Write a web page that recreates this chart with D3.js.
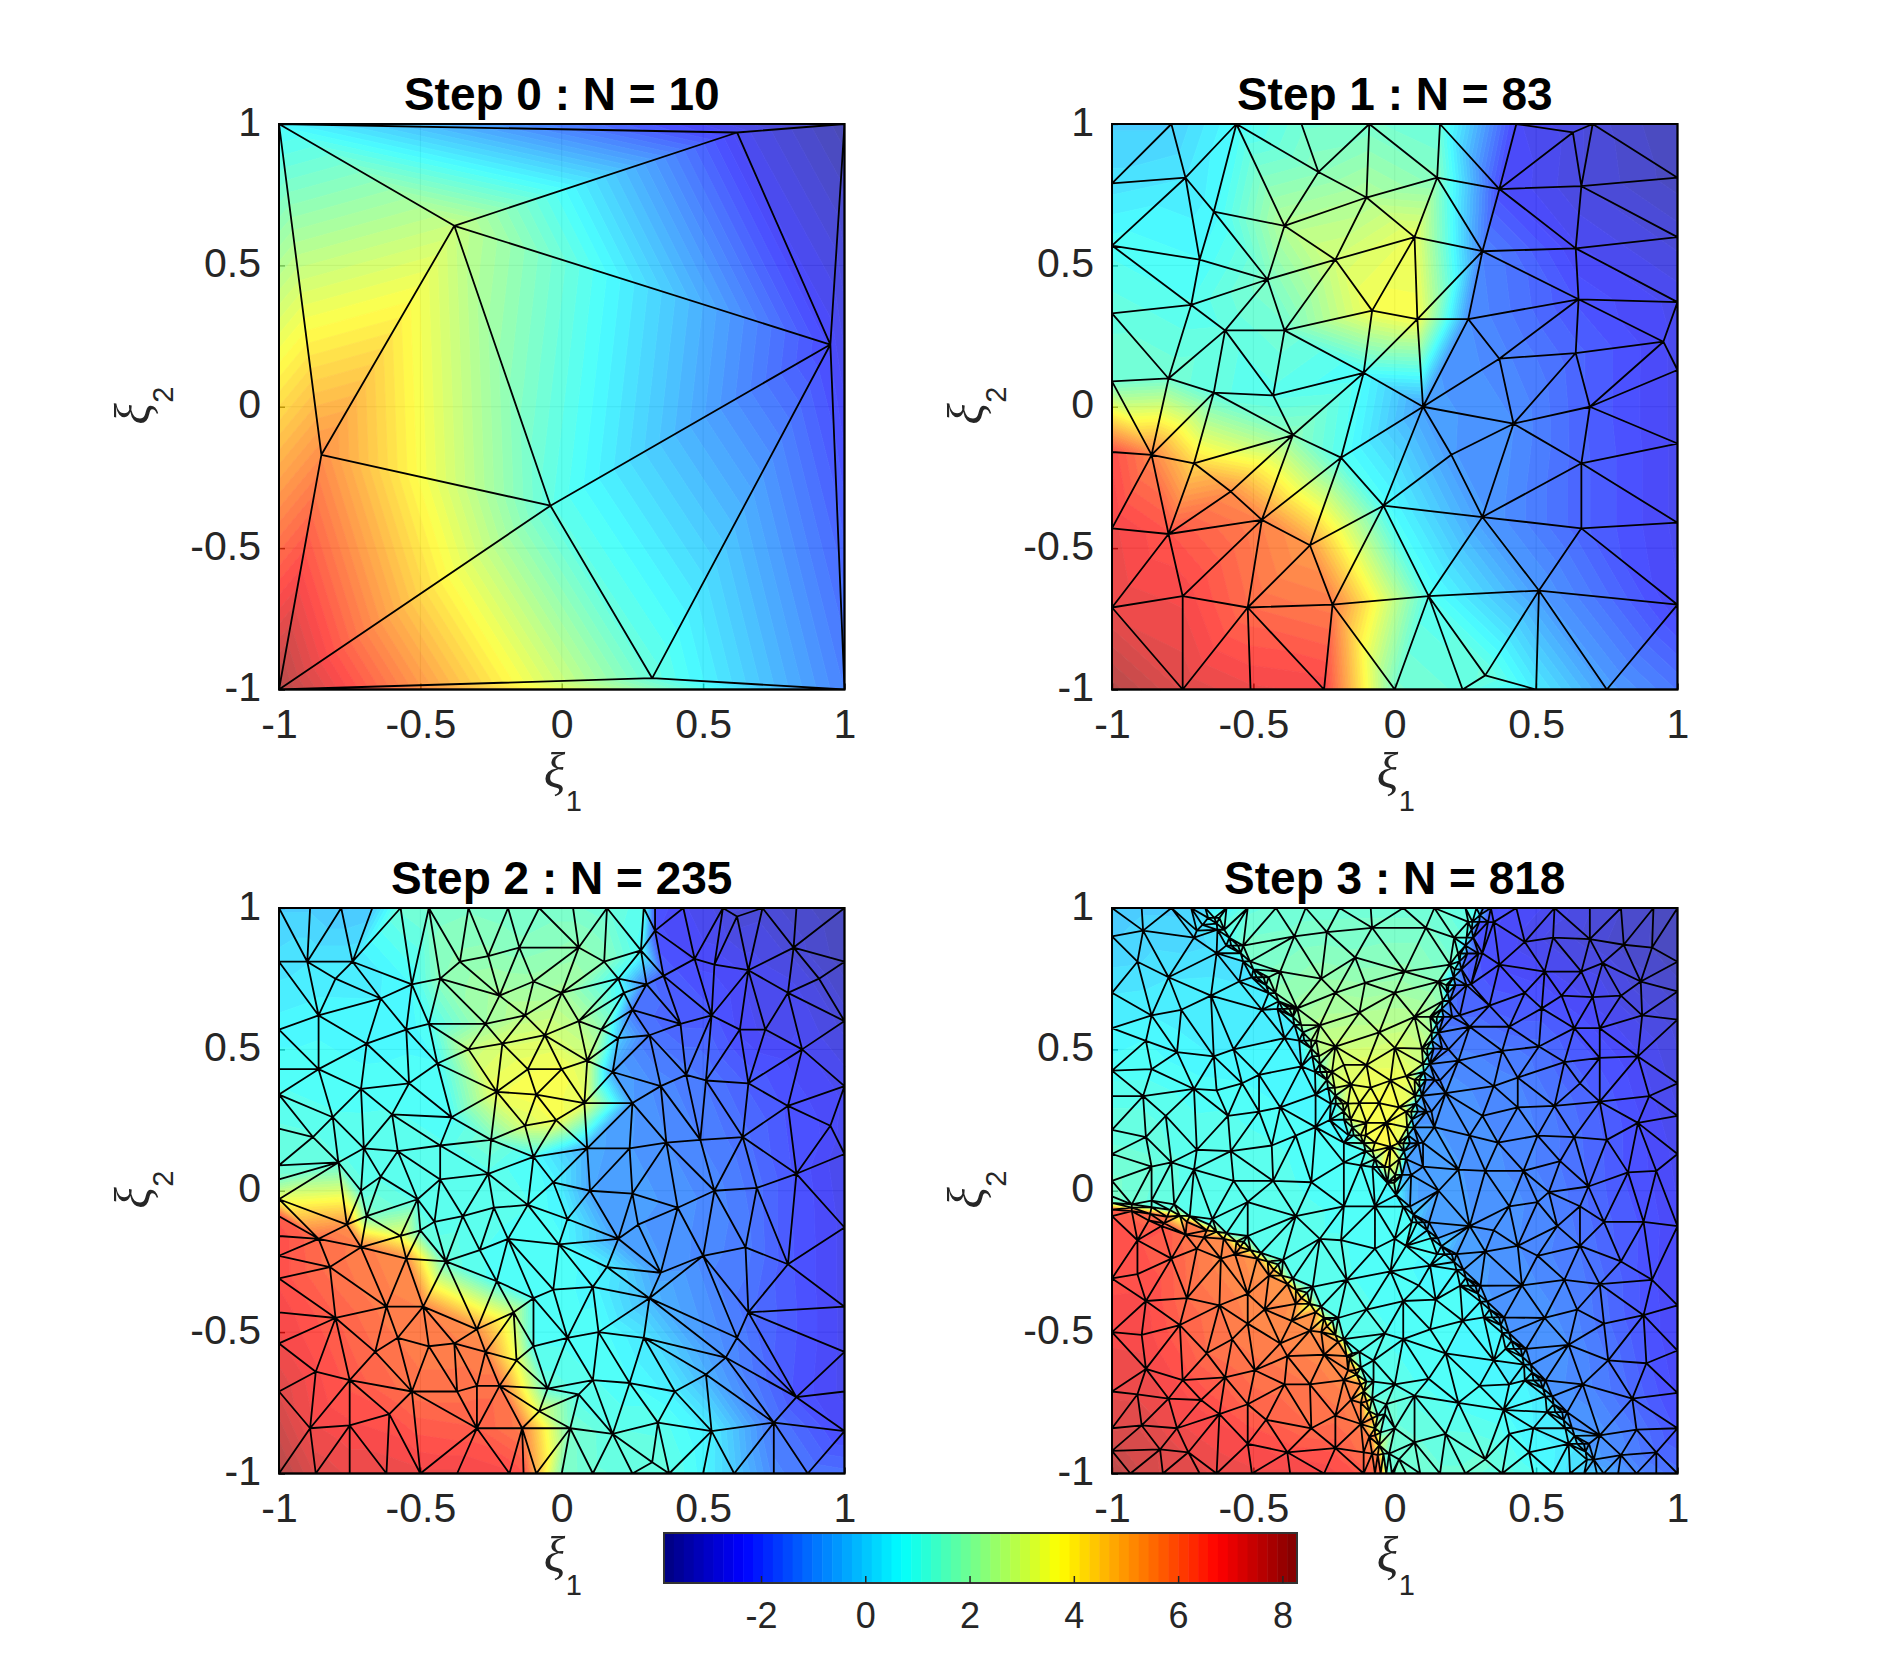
<!DOCTYPE html>
<html>
<head>
<meta charset="utf-8">
<script src="https://cdnjs.cloudflare.com/ajax/libs/d3/7.8.5/d3.min.js"></script>
<style>
body { margin: 0; background: #fff; }
text { font-family: "Liberation Sans", Arial, sans-serif; fill: #262626; }
</style>
</head>
<body>
<div id="wrapper"></div>
<script>
// mesh nodes: [xi1, xi2, value]
const step0Nodes = [
[-1,1,.6],[.62,.97,-2.6],[1,1,-3.6],[-.38,.64,2.8],[.95,.22,-2.4],[-.85,-.17,5.6],[-.04,-.35,1.1],[.32,-.96,1.2],[-1,-1,8],[1,-1,-1.4]
];

const step1Nodes = [
[-1,1,-.1],[-.79,1,-.1],[-.56,1,.7],[-.33,1,1.4],[-.09,1,1.5],[.16,1,1.2],[.43,1,-2.5],[.7,1,-3],[1,1,-3.5],
[-.74,.81,.3],[-.64,.69,.6],[-.27,.83,1.8],[-.1,.74,2.4],[.15,.81,1.7],[.37,.77,-2.3],[.63,.97,-2.8],[.66,.78,-2.9],
[-.39,.64,2.5],[.07,.6,3.4],[.31,.55,-1.4],[.64,.56,-2.5],[-.69,.52,.7],[-.21,.52,3],[-.45,.45,1.6],[-.72,.36,.9],
[-.08,.34,3.6],[.08,.31,3.6],[.26,.31,-1.2],[.65,.38,-2.2],[-.6,.27,1.1],[-.39,.27,1.4],[.37,.17,-1.3],[.64,.19,-1.9],
[.95,.23,-2.5],[-.11,.12,.7],[-.8,.1,1.4],[-.64,.05,1.1],[-.43,.04,1],[.1,0,-.9],[.69,0,-2],[.42,-.06,-1.2],[-.36,-.1,1.8],
[-.86,-.17,5.8],[-.71,-.2,4.4],[-.19,-.18,.9],[.2,-.17,-1],[.66,-.2,-1.9],[-.58,-.3,5.6],[-.04,-.35,.8],[.31,-.39,-1],
[.66,-.43,-1.9],[-.47,-.4,5.8],[-.8,-.45,6.6],[-.3,-.49,5.4],[-.75,-.67,6.9],[-.52,-.71,6.2],[-.22,-.7,5.9],[.12,-.67,.9],
[.51,-.65,-1],[.32,-.95,1.3],
[-1,.79,.2],[-1,.57,.8],[-1,.33,1.2],[-1,.09,1.4],[-1,-.16,6.7],[-1,-.43,7],[-1,-.71,7.1],[-1,-1,8],
[1,.81,-3.4],[1,.6,-3],[1,.37,-2.6],[1,.13,-2.6],[1,-.13,-2.6],[1,-.41,-2.6],[1,-.7,-2.5],[1,-1,-1.6],
[-.75,-1,7.3],[-.51,-1,7],[-.25,-1,6.9],[0,-1,1.5],[.24,-1,1.2],[.5,-1,.4],[.75,-1,-.9]
];

const step2Nodes = [
[-1,1,-.1],[-.89,1,-.1],[-.78,1,-.3],[-.67,1,-.2],[-.57,1,1.3],[-.47,1,1.5],[-.33,1,1.6],[-.19,1,1.5],[-.08,1,1.5],[.04,1,1.5],[.16,1,1.3],[.29,1,.9],[.33,1,-2.2],[.43,1,-2.5],[.57,1,-2.8],[.71,1,-3],[.83,1,-3.2],[1,1,-3.5],
[-.9,.81,.3],[-.74,.81,.3],[-.8,.75,.4],[-.86,.62,.6],[-.64,.68,.5],[-.69,.52,.6],[-.55,.57,.6],[-.53,.73,.7],[-.43,.75,1.8],[-.36,.81,1.9],[-.26,.83,1.9],[-.15,.86,1.7],[.06,.86,1.9],[.15,.81,1.8],[-.1,.74,2.1],[-.22,.69,2.3],[0,.7,2.3],[-.13,.62,2.6],[.06,.6,2.5],[-.27,.59,2.2],[.2,.75,.7],[.14,.57,2],[.2,.54,-.2],[-.06,.55,3.1],[-.21,.52,3.1],[-.33,.5,2.8],[-.47,.59,.8],[-.86,.43,.8],[-.54,.38,.8],[-.71,.36,.8],[-.44,.45,.7],[.09,.46,3],[-.12,.43,3.5],[0,.43,3.6],[.18,.42,-.8],[-.23,.35,3.5],[-.09,.34,3.7],[.08,.31,3.4],[-.02,.25,3.6],[-.13,.23,3.1],[-.25,.18,1.5],[.09,.15,-.7],[-.1,.12,.7],
[-.81,.26,.9],[-.6,.27,.9],[-.39,.26,.8],[-.88,.19,1.1],[-.7,.15,1],[-.58,.14,.9],[-.43,.16,.9],[-.79,.1,1.1],[-.26,.06,1],[-.64,.05,1],[-.43,.04,1],[-.03,.03,.6],[.1,0,-.8],[-.71,0,1.1],[-.51,-.03,1],[-.24,-.06,1],[-.12,-.05,.9],[.02,-.1,.5],[-.35,-.09,1],[-.45,-.11,1],[-.5,-.14,1.2],[-.57,-.16,3.4],
[-.69,-.09,1.6],[-.76,-.12,5.5],[-.86,-.17,6.2],[-.71,-.2,5.9],[-.55,-.24,5.6],[-.82,-.27,6.1],[-.41,-.25,1.2],[-.29,-.21,.9],[-.19,-.17,.8],[-.01,-.19,.8],[-.23,-.32,.8],[-.03,-.35,.8],[-.1,-.38,.8],[.11,-.34,.6],[.13,-.5,.8],[.02,-.52,.8],[-.17,-.43,2.8],[-.3,-.49,5.5],[-.1,-.55,.9],[-.16,-.6,3.5],[.11,-.67,.9],[.24,-.68,.7],[.06,-.72,.9],[.18,-.86,1.1],[.34,-.82,1],[.32,-.96,1.2],[.53,-.85,.4],[.03,-.84,1.5],[-.05,-.7,1.2],[-.08,-.78,3.2],[-.14,-.84,5.9],[-.22,-.69,6.1],[-.3,-.69,6.1],[-.37,-.71,6.1],[-.53,-.71,6.1],[-.3,-.84,6.4],[-.38,-.54,5.9],[-.47,-.55,5.9],[-.58,-.52,6],[-.66,-.57,6.2],[-.62,-.41,5.9],[-.49,-.41,5.8],[-.8,-.45,6.4],[-.87,-.64,6.8],[-.75,-.67,6.5],[-.61,-.79,6.6],[-.89,-.84,7],[-.75,-.83,6.8],[-.27,-.57,5.8],[.16,-.27,.4],[.35,-.29,-1],[.31,-.38,-.5],[.29,-.52,.3],[.4,-.71,.4],[.2,-.17,-.9],[.27,-.12,-1],
[.36,.76,-2],[.47,.82,-2.4],[.54,.8,-2.4],[.66,.78,-2.6],[.8,.7,-2.6],[.91,.75,-3],[.82,.86,-3],[.62,.97,-3],[1,.81,-3.4],[1,.6,-3],[.72,.57,-2.6],[.63,.57,-2.4],[.53,.62,-2.1],[.42,.59,-2],[.31,.55,-1.6],[.3,.73,-1.6],[.85,.5,-2.5],[1,.37,-2.6],[.66,.38,-2],[.51,.39,-1.6],[.44,.41,-1.5],[.35,.37,-1.3],[.25,.31,-1],[.8,.3,-2.2],[.95,.23,-2.4],[1,.13,-2.7],[.64,.19,-1.7],[.49,.18,-1.4],[.37,.17,-1.2],[.24,.15,-1],[.83,.06,-2.2],[.69,.01,-1.7],[.54,0,-1.3],[.25,-.01,-.9],[.41,-.06,-1.1],[1,-.13,-2.6],[.65,-.2,-1.5],[.5,-.23,-1.3],[.8,-.26,-2.1],[.66,-.43,-1.7],[1,-.41,-2.6],[.62,-.52,-1.4],[.58,-.59,-1.2],[1,-.57,-2.6],[.51,-.65,-.6],[.83,-.73,-2.2],[1,-.71,-2.6],[.75,-.82,-1.6],[1,-.85,-2.4],
[.33,.92,-2.3],[.28,.85,.8],[.25,.64,-1.6],[.22,.7,.5],
[1,-1,-1.7],[.87,-1,-1.6],[.75,-1,-1.3],[.61,-1,-.2],[.5,-1,.6],[.38,-1,1.1],[.25,-1,1.2],[.11,-1,1.3],[0,-1,1.6],[-.09,-1,5],[-.135,-1,6.6],[-.185,-1,6.8],[-.37,-1,7],[-.5,-1,7],[-.62,-1,7.1],[-.75,-1,7.1],[-.87,-1,7.3],[-1,-1,8],
[-1,.81,.2],[-1,.57,.6],[-1,.43,.8],[-1,.34,.9],[-1,.22,1.1],[-1,.09,1.2],[-1,.04,1.6],[-1,-.03,3.4],[-1,-.09,6.5],[-1,-.16,6.7],[-1,-.23,6.7],[-1,-.31,6.7],[-1,-.43,6.9],[-1,-.54,7],[-1,-.71,7.3]
];

const step3Nodes = [
// corners and outer boundary
[-1,1,-.2],[1,1,-3.5],[1,-1,-1.7],[-1,-1,8],
[-1,.9,-.1],[-1,.7,.3],[-1,.575,.5],[-1,.425,.8],[-1,.335,1],[-1,.215,1.2],[-1,.13,1.3],[-1,.035,1.5],[-1,-.31,6.7],[-1,-.5,6.9],[-1,-.71,7.1],[-1,-.84,7.3],[-1,-.92,7.6],
[-.895,1,-.1],[-.79,1,-.1],[-.72,1,-.1],[-.67,1,0],[-.595,1,.6],[-.52,1,1.2],[-.42,1,1.3],[-.315,1,1.4],[-.195,1,1.4],[-.085,1,1.4],[.03,1,1.4],[.14,1,1.3],[.25,1,1],[.34,1,-2.2],[.43,1,-2.4],[.565,1,-2.6],[.69,1,-2.9],[.8,1,-3.1],[.915,1,-3.3],
[.79,-1,-1],[.855,-1,-1.3],[.925,-1,-1.5],[-.005,-1,1.6],[.04,-1,1.5],[.09,-1,1.4],[.16,-1,1.3],[.25,-1,1.3],[.38,-1,1.2],[.49,-1,.9],[.56,-1,.5],[.62,-1,.2],[.67,-1,-.2],
[-.935,-1,7.6],[-.82,-1,7.3],[-.69,-1,7.2],[-.63,-1,7.1],[-.505,-1,7],[-.37,-1,7],[-.25,-1,6.9],[-.11,-1,6.5],
// left cyan region
[-.89,.92,0],[-.91,.81,.1],[-.8,.755,.3],[-.71,.895,0],[-.65,.69,.4],[-.755,.64,.4],[-.86,.62,.5],[-.88,.53,.7],[-.77,.49,.6],[-.64,.475,.5],[-.57,.5,.5],[-.48,.41,.6],[-.71,.36,.8],[-.86,.43,.8],[-.89,.335,1],[-.81,.265,1],[-.63,.355,.8],[-.54,.38,.7],[-.59,.265,.9],[-.48,.28,.8],[-.405,.295,.7],[-.88,.19,1.2],[-.7,.145,1],[-.58,.14,1],[-.435,.16,.9],[-.79,.1,1.1],[-.57,.035,1],[-.43,.035,1],[-.86,.085,1.3],[-.71,.075,1],[-.35,.195,.8],[-.28,.225,.7],[-.52,-.04,1],[-.35,-.09,1],
// yellow wedge
[-.21,.51,2.9],[-.265,.585,2.5],[-.18,.445,3.1],[-.1,.445,3.3],[0,.505,3.1],[-.155,.375,3.3],[-.085,.365,3.5],[-.015,.39,3.5],[.04,.405,3.4],[-.125,.31,3.5],[-.055,.31,3.6],[.015,.295,3.6],[-.1,.24,3.6],[-.03,.24,3.7],[-.07,.17,3.8],[-.015,.155,3.9],[-.035,.085,3.9],[0,.04,3],[-.345,.645,2.1],[-.21,.7,2.2],[0,.7,2.2],[-.08,.93,1.5],[-.355,.9,1.5],[-.14,.825,1.7],[.035,.775,1.9],[-.26,.75,2],[-.405,.775,1.7],[-.105,.735,2],[.155,.74,1.8],[.125,.615,2.3],[-.055,.56,2.7],[.07,.615,2.5],[.21,.895,1.3],[.11,.93,1.5],[.195,.8,1.5],[-.24,.915,1.5],[-.125,.63,2.4],
// right blue region
[.46,.88,-2.6],[.56,.895,-2.8],[.69,.89,-3],[.81,.87,-3.2],[.91,.86,-3.3],[1,.81,-3.4],[.37,.8,-2.4],[.53,.775,-2.5],[.66,.775,-2.7],[.735,.805,-2.8],[.87,.74,-3],[1,.705,-3.2],[.46,.7,-2.2],[.59,.69,-2.4],[.7,.685,-2.6],[.8,.69,-2.8],[.335,.655,-2],[.405,.58,-1.9],[.52,.645,-2.1],[.635,.575,-2.2],[.725,.575,-2.4],[.875,.62,-2.8],[1,.605,-3],[.265,.58,-1.6],[.38,.495,-1.5],[.51,.51,-1.7],[.6,.455,-1.9],[.725,.47,-2.2],[.86,.475,-2.5],[1,.38,-2.8],[.225,.46,-1.3],[.35,.37,-1.3],[.435,.4,-1.4],[.655,.38,-1.9],[.9,.335,-2.5],[.18,.345,-1.1],[.31,.265,-1.2],[.435,.295,-1.3],[.565,.3,-1.6],[.725,.315,-2],[.86,.24,-2.3],[1,.265,-2.7],[.14,.225,-1],[.265,.195,-1.1],[.365,.17,-1.2],[.505,.195,-1.4],[.635,.19,-1.7],[.75,.18,-2],[1,.13,-2.6],[.1,.085,-.9],[.225,.075,-1],[.32,.07,-1.1],[.455,.07,-1.3],[.585,.105,-1.6],[.685,.015,-1.8],[.825,.065,-2.2],[.925,.07,-2.4],[.155,0,-.9],[.405,-.055,-1.1],[.545,-.005,-1.4],[.265,-.125,-1],[.35,-.14,-1.1],[.74,-.11,-1.9],[.88,-.11,-2.2],[1,-.125,-2.5],[.32,-.215,-1],[.505,-.23,-1.3],[.655,-.195,-1.6],[.8,-.25,-2],[.91,-.315,-2.3],[.45,-.335,-1.1],[.6,-.315,-1.4],[.725,-.33,-1.7],[.53,-.45,-1.1],[.645,-.42,-1.4],[.74,-.47,-1.7],[.88,-.44,-2.2],[1,-.405,-2.5],[.615,-.545,-1.2],[.755,-.6,-1.6],[.89,-.61,-2.1],[1,-.565,-2.5],[.665,-.685,-1.3],[.84,-.735,-1.8],[1,-.715,-2.4],[.725,-.865,-1.1],[.855,-.845,-1.6],[1,-.84,-2.2],[.8,-.935,-1.3],[.925,-.925,-1.8],[.505,-.04,-1.3],[.655,-.055,-1.7],[.435,-.195,-1.2],[.575,-.125,-1.4],
// cyan centre
[-.19,-.175,.9],[-.07,-.205,.8],[.04,-.195,.8],[-.265,-.17,.9],[-.18,-.055,.8],[-.07,-.055,.7],[-.295,.03,.8],[-.18,.1,.7],[0,-.17,.7],[.125,-.265,.6],[-.17,-.315,.9],[-.015,-.285,.8],[.085,-.335,.7],[-.1,-.42,.9],[.03,-.39,.8],[.145,-.385,.7],[-.035,-.505,.9],[.125,-.49,.7],[.24,-.46,.7],[-.075,-.6,1],[.03,-.525,.8],[.18,-.575,.7],[.35,-.6,.5],[0,-.685,1],[.12,-.665,.8],[.3,-.69,.7],[.405,-.685,.5],[-.03,-.755,1.4],[.07,-.725,1],[.225,-.75,.8],[.385,-.775,.7],[0,-.84,1.3],[.18,-.86,1.1],[.405,-.86,.8],[.49,-.84,.5],[.07,-.89,1.3],[.32,-.95,1.3],[.475,-.925,.7],[.015,-.95,1.4],
// red disc
[-.825,-.125,6.6],[-.74,-.155,6.1],[-.91,-.175,6.6],[-.91,-.295,6.7],[-.79,-.24,6.4],[-.7,-.205,6],[-.615,-.24,5.7],[-.88,-.39,6.8],[-.735,-.38,6.2],[-.62,-.405,6],[-.52,-.365,5.7],[-.46,-.42,5.7],[-.895,-.51,6.9],[-.76,-.475,6.4],[-.665,-.575,6.2],[-.575,-.525,6],[-.365,-.46,5.6],[-.52,-.47,5.8],[-.405,-.54,5.8],[-.3,-.495,5.6],[-.88,-.63,7],[-.75,-.67,6.7],[-.6,-.66,6.3],[-.495,-.635,6.1],[-.38,-.585,5.9],[-.25,-.58,5.7],[-.91,-.72,7.1],[-.8,-.735,6.9],[-.685,-.74,6.7],[-.52,-.755,6.3],[-.39,-.685,6.1],[-.3,-.685,6],[-.18,-.67,5.7],[-.895,-.83,7.3],[-.77,-.84,7],[-.62,-.79,6.7],[-.455,-.81,6.4],[-.295,-.84,6.2],[-.21,-.795,6.1],[-.155,-.74,5.9],[-.12,-.825,5.9],[-.83,-.915,7.3],[-.73,-.925,7.1],[-.52,-.895,6.8],[-.38,-.925,6.7],[-.21,-.91,6.5],[-.11,-.925,6.1],
// arc around the red disc
[-1,-.043,1.6],[-.93,-.048,1.4],[-.86,-.058,1.2],[-.795,-.068,1.1],[-.725,-.09,1],[-.655,-.12,1],[-.595,-.15,1],[-.534,-.18,1],[-.473,-.22,1],[-.412,-.26,1],[-.36,-.31,.9],[-.31,-.36,.9],[-.26,-.41,.9],[-.22,-.46,.9],[-.18,-.525,1],[-.15,-.575,1],[-.12,-.625,1],[-.1,-.675,1.1],[-.08,-.735,1.1],[-.06,-.795,1.2],[-.05,-.855,1.2],[-.04,-.93,1.3],[-.03,-1,1.4],
[-1,-.067,6.5],[-.93,-.072,6.3],[-.865,-.082,6.2],[-.805,-.092,6.1],[-.735,-.11,5.9],[-.665,-.14,5.7],[-.605,-.17,5.6],[-.546,-.2,5.5],[-.487,-.24,5.5],[-.428,-.28,5.4],[-.38,-.33,5.4],[-.33,-.38,5.4],[-.28,-.43,5.4],[-.24,-.48,5.4],[-.2,-.535,5.4],[-.17,-.585,5.5],[-.14,-.635,5.5],[-.12,-.685,5.5],[-.1,-.745,5.6],[-.08,-.805,5.7],[-.07,-.865,5.7],[-.06,-.935,5.8],[-.05,-1,6.1],
[-1,-.02,1.5],[-.86,-.035,1.2],[-.78,-.048,1.1],[-.645,-.1,1],[-.52,-.16,1],[-.395,-.245,.9],[-.29,-.34,.9],[-.2,-.45,.9],[-.125,-.57,.9],[-.075,-.675,1],[-.035,-.79,1.1],[-.02,-.93,1.3],[-.01,-1,1.4],
[-1,-.09,6.6],[-.87,-.105,6.3],[-.815,-.115,6.2],[-.675,-.165,5.8],[-.565,-.225,5.7],[-.445,-.3,5.6],[-.35,-.4,5.6],[-.26,-.5,5.6],[-.165,-.635,5.7],[-.12,-.75,5.7],[-.09,-.87,5.8],[-.08,-.93,5.9],[-.07,-1,6.3],
[-.93,-.06,3],[-.76,-.088,3],[-.63,-.145,3],[-.56,-.18,3],[-.51,-.21,3],[-.45,-.25,3],[-.4,-.3,3],[-.35,-.35,3],[-.3,-.4,3],[-.25,-.45,3],[-.21,-.51,3],[-.16,-.59,3],[-.135,-.65,3],[-.11,-.71,3],[-.09,-.78,3],[-.07,-.84,3],[-.055,-.9,3],
// left side of the wedge
[-.66,.965,.3],[-.627,.923,.3],[-.578,.867,.3],[-.536,.811,.3],[-.488,.755,.4],[-.446,.699,.4],[-.397,.643,.5],[-.355,.587,.5],[-.32,.531,.5],[-.292,.476,.5],[-.264,.42,.6],[-.236,.364,.6],[-.208,.308,.6],[-.18,.252,.7],[-.145,.196,.7],[-.103,.14,.7],[-.061,.084,.7],[-.026,.028,.7],
[-.638,.965,1.2],[-.603,.923,1.3],[-.554,.867,1.4],[-.512,.811,1.5],[-.464,.755,1.7],[-.422,.699,1.9],[-.373,.643,2.1],[-.331,.587,2.3],[-.296,.531,2.4],[-.268,.476,2.7],[-.24,.42,2.9],[-.212,.364,3.1],[-.184,.308,3.2],[-.156,.252,3.3],[-.121,.196,3.3],[-.079,.14,3.2],[-.037,.084,3],[-.002,.028,2.6],
[-.68,.94,.2],[-.596,.867,.2],[-.506,.755,.3],[-.415,.643,.4],[-.338,.531,.5],[-.282,.42,.6],[-.226,.308,.6],[-.163,.196,.6],[-.079,.084,.7],
[-.62,.965,1.3],[-.536,.867,1.5],[-.446,.755,1.8],[-.355,.643,2.2],[-.278,.531,2.5],[-.222,.42,3],[-.166,.308,3.3],[-.103,.196,3.5],[-.019,.084,3.3],
[-.7,.92,.2],[-.63,.84,.2],[-.55,.74,.3],[-.47,.64,.4],[-.39,.54,.5],[-.33,.44,.5],[-.28,.34,.6],[-.23,.25,.6],[-.18,.17,.7],[-.12,.09,.7],
[-.63,.945,.8],[-.585,.895,.8],[-.545,.84,.9],[-.5,.783,.9],[-.455,.727,1],[-.41,.67,1.1],[-.36,.615,1.2],[-.325,.56,1.3],[-.295,.503,1.4],[-.265,.448,1.5],[-.24,.392,1.6],[-.21,.336,1.7],[-.18,.28,1.7],[-.15,.224,1.8],[-.11,.168,1.8],[-.07,.112,1.8],
// right side of the wedge
[.289,1,.9],[.275,.951,1],[.254,.895,1.2],[.233,.839,1.4],[.212,.783,1.5],[.191,.727,1.7],[.17,.671,1.9],[.149,.615,2.1],[.131,.559,2.4],[.114,.503,2.6],[.1,.448,2.9],[.086,.392,3.1],[.072,.336,3.2],[.058,.28,3.3],[.044,.224,3.3],[.03,.168,3.2],[.016,.112,3],[.002,.056,2.6],
[.313,1,-2.2],[.299,.951,-2.2],[.278,.895,-2.1],[.257,.839,-2],[.236,.783,-1.9],[.215,.727,-1.8],[.194,.671,-1.7],[.173,.615,-1.6],[.155,.559,-1.5],[.138,.503,-1.4],[.124,.448,-1.3],[.11,.392,-1.2],[.096,.336,-1.1],[.082,.28,-1],[.068,.224,-1],[.054,.168,-.9],[.04,.112,-.8],[.026,.056,-.6],
[.26,.951,1.2],[.224,.839,1.5],[.182,.727,1.8],[.131,.615,2.3],[.096,.503,2.8],[.07,.392,3.3],[.04,.28,3.5],[.012,.168,3.5],
[.33,.951,-2.3],[.296,.839,-2.1],[.254,.727,-1.9],[.203,.615,-1.7],[.168,.503,-1.5],[.142,.392,-1.3],[.112,.28,-1.1],[.084,.168,-1],[.058,.056,-.8],
[.35,.95,-2.3],[.31,.84,-2.2],[.27,.73,-2],[.23,.62,-1.8],[.19,.5,-1.5],[.16,.39,-1.3],[.13,.28,-1.2],[.1,.17,-1],
[.301,.975,-.4],[.272,.923,-.4],[.25,.867,-.4],[.229,.811,-.4],[.208,.755,-.4],[.187,.699,-.4],[.166,.643,-.4],[.148,.587,-.4],[.131,.531,-.3],[.117,.475,-.3],[.103,.42,-.3],[.089,.364,-.2],[.075,.308,-.2],[.061,.252,-.2],[.047,.196,-.1],[.033,.14,0],
// lower right band
[.03,-.056,.7],[.079,-.112,.7],[.128,-.168,.7],[.177,-.224,.6],[.219,-.28,.6],[.261,-.336,.6],[.303,-.392,.6],[.345,-.448,.6],[.38,-.503,.5],[.422,-.559,.5],[.457,-.615,.5],[.491,-.671,.4],[.533,-.727,.4],[.568,-.783,.3],[.603,-.839,.3],[.645,-.895,.2],[.68,-.951,.1],[.715,-1,-.1],
[.054,-.056,-.8],[.103,-.112,-.9],[.152,-.168,-.9],[.201,-.224,-1],[.243,-.28,-1],[.285,-.336,-1],[.327,-.392,-1],[.369,-.448,-1],[.404,-.503,-1],[.446,-.559,-1],[.481,-.615,-1],[.515,-.671,-1],[.557,-.727,-1],[.592,-.783,-1],[.627,-.839,-1],[.669,-.895,-1],[.704,-.951,-.9],[.739,-1,-.7],
[.06,-.112,.7],[.15,-.224,.7],[.231,-.336,.7],[.315,-.448,.6],[.392,-.559,.6],[.46,-.671,.5],[.538,-.783,.4],[.615,-.895,.4],
[.121,-.112,-1],[.219,-.224,-1],[.303,-.336,-1],[.387,-.448,-1.1],[.464,-.559,-1.1],[.533,-.671,-1.1],[.61,-.783,-1.1],[.687,-.895,-1.1],
[.066,-.084,0],[.115,-.14,0],[.165,-.196,0],[.21,-.252,0],[.252,-.308,0],[.294,-.364,0],[.336,-.42,0],[.375,-.475,0],[.413,-.531,0],[.451,-.587,0],[.486,-.643,0],[.524,-.699,0],[.562,-.755,0],[.597,-.811,0],[.636,-.867,-.1],[.675,-.923,-.2],
[.005,-.015,.6]
];

const axisTicks = [-1, -0.5, 0, 0.5, 1];
const barTicks = [-2, 0, 2, 4, 6, 8];
const barDomain = [-3.86, 8.28];
const panels = [
  { title: "Step 0 : N = 10", nodes: step0Nodes, left: 279, top: 124 },
  { title: "Step 1 : N = 83", nodes: step1Nodes, left: 1112, top: 124 },
  { title: "Step 2 : N = 235", nodes: step2Nodes, left: 279, top: 908 },
  { title: "Step 3 : N = 818", nodes: step3Nodes, left: 1112, top: 908 },
];

const size = 565.5;

// matlab jet, 64 levels
const clamp = v => Math.max(0, Math.min(1, v));
const jet = d3.range(64).map(i => {
  const t = (i + 0.5) / 64;
  const c = k => Math.round(255 * clamp(Math.min(4 * t - k + 1.5 - 1.5, -4 * t + k + 3)));
  return `rgb(${c(1.5)},${c(0.5)},${c(-0.5)})`;
});
const level = d3.scaleQuantize().domain(barDomain).range(d3.range(64));
const levelWidth = (barDomain[1] - barDomain[0]) / 64;

const svg = d3.select("#wrapper").append("svg")
  .attr("width", 1890)
  .attr("height", 1654)
  .style("display", "block");

// keep the part of a polygon where sign*(v-limit) >= 0
function clip(poly, limit, sign) {
  const out = [];
  poly.forEach((p, i) => {
    const q = poly[(i + 1) % poly.length];
    const dp = sign * (p[2] - limit), dq = sign * (q[2] - limit);
    if (dp >= 0) out.push(p);
    if ((dp >= 0) !== (dq >= 0)) {
      const t = dp / (dp - dq);
      out.push([p[0] + t * (q[0] - p[0]), p[1] + t * (q[1] - p[1]), limit]);
    }
  });
  return out;
}

function xiLabel(g, sub) {
  g.append("text").attr("x", -18).attr("y", 0)
    .style("font-family", "'Liberation Serif', serif").style("font-style", "italic").style("font-size", "50px")
    .text("ξ");
  g.append("text").attr("x", 4).attr("y", 23).style("font-size", "29px").text(sub);
}

function drawPanel(panel) {
  const x = d3.scaleLinear().domain([-1, 1]).range([0, size]);
  const y = d3.scaleLinear().domain([-1, 1]).range([size, 0]);
  const g = svg.append("g").attr("transform", `translate(${panel.left},${panel.top})`);

  // grid sits under the translucent fill
  const grid = g.append("g").attr("stroke", "#000").attr("stroke-opacity", 0.15);
  grid.selectAll("line.v").data(axisTicks).join("line").attr("class", "v")
    .attr("x1", d => x(d)).attr("x2", d => x(d)).attr("y1", 0).attr("y2", size);
  grid.selectAll("line.h").data(axisTicks).join("line").attr("class", "h")
    .attr("y1", d => y(d)).attr("y2", d => y(d)).attr("x1", 0).attr("x2", size);

  const xAxis = g.append("g").attr("transform", `translate(0,${size})`)
    .call(d3.axisBottom(x).tickValues(axisTicks).tickFormat(d => String(d)).tickSize(-6).tickPadding(19));
  const yAxis = g.append("g")
    .call(d3.axisLeft(y).tickValues(axisTicks).tickFormat(d => String(d)).tickSize(-6).tickPadding(18));
  [xAxis, yAxis].forEach(a => {
    a.select(".domain").remove();
    a.selectAll("line").attr("stroke", "#262626").attr("stroke-width", 1.5);
    a.selectAll("text").style("font-size", "41px").attr("fill", "#262626");
  });
  yAxis.selectAll("text").attr("dy", "0.27em");

  // triangles, cut into the 64 colour levels
  const delaunay = d3.Delaunay.from(panel.nodes, d => x(d[0]), d => y(d[1]));
  const paths = d3.range(64).map(() => d3.path());
  const tri = delaunay.triangles;
  for (let i = 0; i < tri.length; i += 3) {
    const pts = [tri[i], tri[i + 1], tri[i + 2]].map(k => {
      const n = panel.nodes[k];
      return [x(n[0]), y(n[1]), n[2]];
    });
    const vs = pts.map(p => p[2]);
    const from = level(d3.min(vs)), to = level(d3.max(vs));
    for (let b = from; b <= to; b++) {
      const lo = barDomain[0] + b * levelWidth;
      const poly = clip(clip(pts, lo, 1), lo + levelWidth, -1);
      if (poly.length < 3) continue;
      poly.forEach((p, k) => k ? paths[b].lineTo(p[0], p[1]) : paths[b].moveTo(p[0], p[1]));
      paths[b].closePath();
    }
  }
  g.append("g").attr("opacity", 0.7)
    .selectAll("path").data(paths).join("path")
    .attr("d", d => d.toString())
    .attr("fill", (d, i) => jet[i])
    .attr("stroke", (d, i) => jet[i])
    .attr("stroke-width", 0.8);

  g.append("path").attr("d", delaunay.render())
    .attr("fill", "none").attr("stroke", "#000").attr("stroke-width", 1.8);

  g.append("rect").attr("width", size).attr("height", size)
    .attr("fill", "none").attr("stroke", "#000").attr("stroke-width", 1.8);

  g.append("text").attr("x", size / 2).attr("y", -14)
    .attr("text-anchor", "middle")
    .style("font-size", "46px").style("font-weight", "bold").style("fill", "#000")
    .text(panel.title);

  xiLabel(g.append("g").attr("transform", `translate(${size / 2},${size + 98})`), "1");
  xiLabel(g.append("g").attr("transform", `translate(-129,${size / 2}) rotate(-90)`), "2");
}

panels.forEach(drawPanel);

// colour bar
const bar = { left: 664, right: 1297, top: 1533, bottom: 1583 };
const barScale = d3.scaleLinear().domain(barDomain).range([bar.left, bar.right]);
const barGroup = svg.append("g");
barGroup.selectAll("rect").data(jet).join("rect")
  .attr("x", (d, i) => barScale(barDomain[0] + i * levelWidth))
  .attr("width", (bar.right - bar.left) / 64 + 0.5)
  .attr("y", bar.top)
  .attr("height", bar.bottom - bar.top)
  .attr("fill", d => d);
barGroup.append("rect")
  .attr("x", bar.left).attr("y", bar.top)
  .attr("width", bar.right - bar.left).attr("height", bar.bottom - bar.top)
  .attr("fill", "none").attr("stroke", "#333").attr("stroke-width", 2);
const barAxis = svg.append("g").attr("transform", `translate(0,${bar.bottom})`)
  .call(d3.axisBottom(barScale).tickValues(barTicks).tickFormat(d => String(d)).tickSize(-7).tickPadding(19));
barAxis.select(".domain").remove();
barAxis.selectAll("line").attr("stroke", "#262626").attr("stroke-width", 1.5);
barAxis.selectAll("text").style("font-size", "36px").attr("fill", "#262626");
</script>
</body>
</html>
